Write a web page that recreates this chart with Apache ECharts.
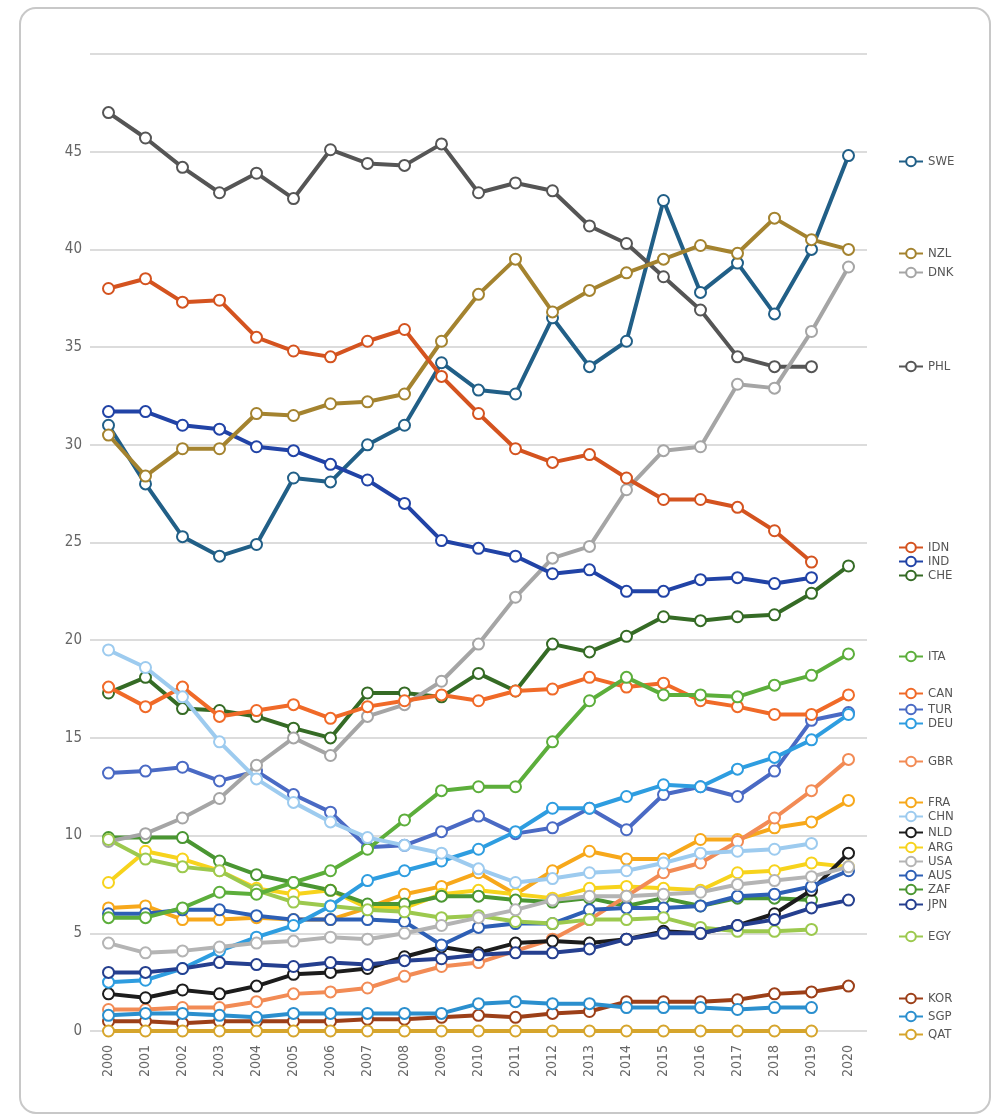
<!DOCTYPE html>
<html>
<head>
<meta charset="utf-8">
<script src="https://cdn.jsdelivr.net/npm/echarts@6/dist/echarts.min.js"></script>
<style>
  html, body { margin: 0; padding: 0; background: #fff; }
  #chart { width: 998px; height: 1118px; }
</style>
</head>
<body>
<div id="chart"></div>
<script>
// years on the x axis
var years = ['2000', '2001', '2002', '2003', '2004', '2005', '2006', '2007', '2008', '2009', '2010',
  '2011', '2012', '2013', '2014', '2015', '2016', '2017', '2018', '2019', '2020']

// values per country
var SWE = [31.0, 28.0, 25.3, 24.3, 24.9, 28.3, 28.1, 30.0, 31.0, 34.2, 32.8, 32.6, 36.5, 34.0, 35.3, 42.5, 37.8, 39.3, 36.7, 40.0, 44.8]
var NZL = [30.5, 28.4, 29.8, 29.8, 31.6, 31.5, 32.1, 32.2, 32.6, 35.3, 37.7, 39.5, 36.8, 37.9, 38.8, 39.5, 40.2, 39.8, 41.6, 40.5, 40.0]
var DNK = [9.7, 10.1, 10.9, 11.9, 13.6, 15.0, 14.1, 16.1, 16.7, 17.9, 19.8, 22.2, 24.2, 24.8, 27.7, 29.7, 29.9, 33.1, 32.9, 35.8, 39.1]
var PHL = [47.0, 45.7, 44.2, 42.9, 43.9, 42.6, 45.1, 44.4, 44.3, 45.4, 42.9, 43.4, 43.0, 41.2, 40.3, 38.6, 36.9, 34.5, 34.0, 34.0, null]
var IDN = [38.0, 38.5, 37.3, 37.4, 35.5, 34.8, 34.5, 35.3, 35.9, 33.5, 31.6, 29.8, 29.1, 29.5, 28.3, 27.2, 27.2, 26.8, 25.6, 24.0, null]
var IND = [31.7, 31.7, 31.0, 30.8, 29.9, 29.7, 29.0, 28.2, 27.0, 25.1, 24.7, 24.3, 23.4, 23.6, 22.5, 22.5, 23.1, 23.2, 22.9, 23.2, null]
var CHE = [17.3, 18.1, 16.5, 16.4, 16.1, 15.5, 15.0, 17.3, 17.3, 17.1, 18.3, 17.4, 19.8, 19.4, 20.2, 21.2, 21.0, 21.2, 21.3, 22.4, 23.8]
var ITA = [5.8, 5.8, 6.3, 7.1, 7.0, 7.6, 8.2, 9.3, 10.8, 12.3, 12.5, 12.5, 14.8, 16.9, 18.1, 17.2, 17.2, 17.1, 17.7, 18.2, 19.3]
var CAN = [17.6, 16.6, 17.6, 16.1, 16.4, 16.7, 16.0, 16.6, 16.9, 17.2, 16.9, 17.4, 17.5, 18.1, 17.6, 17.8, 16.9, 16.6, 16.2, 16.2, 17.2]
var TUR = [13.2, 13.3, 13.5, 12.8, 13.3, 12.1, 11.2, 9.4, 9.5, 10.2, 11.0, 10.1, 10.4, 11.4, 10.3, 12.1, 12.5, 12.0, 13.3, 15.9, 16.3]
var DEU = [2.5, 2.6, 3.2, 4.1, 4.8, 5.4, 6.4, 7.7, 8.2, 8.7, 9.3, 10.2, 11.4, 11.4, 12.0, 12.6, 12.5, 13.4, 14.0, 14.9, 16.2]
var GBR = [1.1, 1.1, 1.2, 1.2, 1.5, 1.9, 2.0, 2.2, 2.8, 3.3, 3.5, 4.1, 4.7, 5.7, 6.9, 8.1, 8.6, 9.7, 10.9, 12.3, 13.9]
var FRA = [6.3, 6.4, 5.7, 5.7, 5.8, 5.7, 5.7, 6.3, 7.0, 7.4, 8.1, 7.0, 8.2, 9.2, 8.8, 8.8, 9.8, 9.8, 10.4, 10.7, 11.8]
var CHN = [19.5, 18.6, 17.1, 14.8, 12.9, 11.7, 10.7, 9.9, 9.5, 9.1, 8.3, 7.6, 7.8, 8.1, 8.2, 8.6, 9.1, 9.2, 9.3, 9.6, null]
var NLD = [1.9, 1.7, 2.1, 1.9, 2.3, 2.9, 3.0, 3.2, 3.8, 4.3, 4.0, 4.5, 4.6, 4.5, 4.7, 5.1, 5.0, 5.4, 6.0, 7.2, 9.1]
var ARG = [7.6, 9.2, 8.8, 8.2, 7.3, 7.0, 7.2, 6.3, 6.3, 7.0, 7.2, 7.0, 6.8, 7.3, 7.4, 7.3, 7.2, 8.1, 8.2, 8.6, 8.4]
var USA = [4.5, 4.0, 4.1, 4.3, 4.5, 4.6, 4.8, 4.7, 5.0, 5.4, 5.8, 6.2, 6.7, 6.9, 6.9, 7.0, 7.1, 7.5, 7.7, 7.9, 8.4]
var AUS = [6.0, 6.0, 6.2, 6.2, 5.9, 5.7, 5.7, 5.7, 5.6, 4.4, 5.3, 5.5, 5.5, 6.2, 6.3, 6.3, 6.4, 6.9, 7.0, 7.4, 8.2]
var ZAF = [9.9, 9.9, 9.9, 8.7, 8.0, 7.6, 7.2, 6.5, 6.5, 6.9, 6.9, 6.7, 6.6, 6.8, 6.4, 6.8, 6.4, 6.8, 6.8, 6.7, null]
var JPN = [3.0, 3.0, 3.2, 3.5, 3.4, 3.3, 3.5, 3.4, 3.6, 3.7, 3.9, 4.0, 4.0, 4.2, 4.7, 5.0, 5.0, 5.4, 5.7, 6.3, 6.7]
var EGY = [9.8, 8.8, 8.4, 8.2, 7.2, 6.6, 6.4, 6.2, 6.1, 5.8, 5.9, 5.6, 5.5, 5.7, 5.7, 5.8, 5.3, 5.1, 5.1, 5.2, null]
var KOR = [0.5, 0.5, 0.4, 0.5, 0.5, 0.5, 0.5, 0.6, 0.6, 0.7, 0.8, 0.7, 0.9, 1.0, 1.5, 1.5, 1.5, 1.6, 1.9, 2.0, 2.3]
var SGP = [0.8, 0.9, 0.9, 0.8, 0.7, 0.9, 0.9, 0.9, 0.9, 0.9, 1.4, 1.5, 1.4, 1.4, 1.2, 1.2, 1.2, 1.1, 1.2, 1.2, null]
var QAT = [0, 0, 0, 0, 0, 0, 0, 0, 0, 0, 0, 0, 0, 0, 0, 0, 0, 0, 0, 0, null]

var countries = ['SWE', 'NZL', 'DNK', 'PHL', 'IDN', 'IND', 'CHE', 'ITA', 'CAN', 'TUR', 'DEU', 'GBR',
  'FRA', 'CHN', 'NLD', 'ARG', 'USA', 'AUS', 'ZAF', 'JPN', 'EGY', 'KOR', 'SGP', 'QAT']
var values = [SWE, NZL, DNK, PHL, IDN, IND, CHE, ITA, CAN, TUR, DEU, GBR,
  FRA, CHN, NLD, ARG, USA, AUS, ZAF, JPN, EGY, KOR, SGP, QAT]

// styling / layout
var colors = ['#215f87', '#a4832f', '#a5a5a5', '#555555', '#d4531f', '#2143a6', '#356b25', '#5cae3b',
  '#f06a28', '#4a6ac4', '#2e9de0', '#f28b55', '#f7a81b', '#9dcbef', '#1c1c1c', '#f7d31c',
  '#b4b4b4', '#2d5fb5', '#4a9632', '#253f8f', '#9cc94e', '#9c3f18', '#2b8fce', '#d6a52c']
var legendTops = [157, 249, 268, 362, 543, 557, 571, 652, 689, 705, 719, 757,
  798, 812, 828, 843, 857, 871, 885, 900, 932, 994, 1012, 1030]

var font = "'DejaVu Sans Condensed', 'Liberation Sans Narrow', sans-serif"

var series = countries.map(function (name, i) {
  return {
    name: name,
    type: 'line',
    data: values[i],
    symbol: 'emptyCircle',
    symbolSize: 11,
    color: colors[i],
    lineStyle: { width: 4 },
    itemStyle: { borderWidth: 3 },
    z: 2 + (countries.length - i) % 3
  }
})

var legends = countries.map(function (name, i) {
  return {
    data: [name],
    left: 893,
    top: legendTops[i] - 7,
    itemWidth: 24,
    itemHeight: 12,
    selectedMode: false,
    textStyle: { color: '#555', fontSize: 13, fontFamily: font }
  }
})

var myChart = echarts.init(document.getElementById('chart'))
myChart.setOption({
  backgroundColor: '#fff',
  animation: false,
  graphic: [{
    type: 'rect',
    shape: { x: 20, y: 8, width: 970, height: 1105, r: 16 },
    style: { fill: 'none', stroke: '#c8c8c8', lineWidth: 2 },
    z: -1
  }],
  legend: legends,
  grid: {
    left: 90,
    right: 131,
    top: 54,
    bottom: 87
  },
  xAxis: {
    type: 'category',
    data: years,
    boundaryGap: true,
    axisLine: { show: false },
    axisTick: { show: false },
    axisLabel: {
      rotate: 90,
      margin: 14,
      color: '#666',
      fontSize: 14,
      fontFamily: font
    }
  },
  yAxis: {
    type: 'value',
    min: 0,
    max: 50,
    interval: 5,
    axisLine: { show: false },
    axisTick: { show: false },
    axisLabel: {
      showMaxLabel: false,
      color: '#666',
      fontSize: 15,
      margin: 8,
      fontFamily: font
    },
    splitLine: { lineStyle: { color: '#dcdcdc', width: 2 } }
  },
  series: series
}, true)
</script>
</body>
</html>
